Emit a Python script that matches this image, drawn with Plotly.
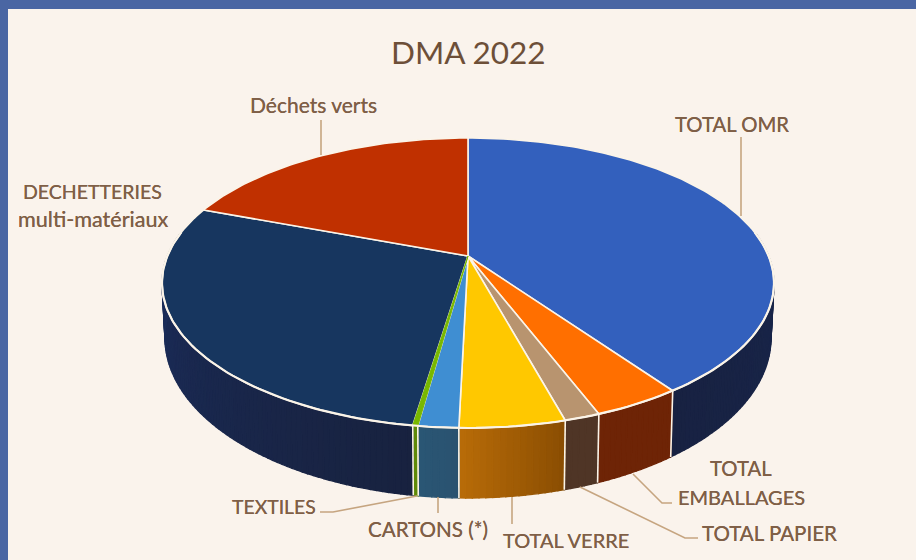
import math
import plotly.graph_objects as go

# ---- data (share of total, %)
categories = ["TOTAL OMR", "TOTAL EMBALLAGES", "TOTAL PAPIER", "TOTAL VERRE",
              "CARTONS (*)", "TEXTILES", "DECHETTERIES multi-matériaux", "Déchets verts"]
values = [40.2, 3.94, 1.58, 4.67, 1.78, 0.22, 28.3, 19.3]

# ---- styles
top_colors = ["#3360bd", "#ff6f00", "#b8946f", "#ffc800", "#3f8ed2", "#78b800", "#17365f", "#c03000"]
side_from = ["#18264c", "#6e2406", "#4f3526", "#8a4d02", "#2a5270", "#5f8a08", "#18223f", "#7a1e00"]
side_to = ["#182242", "#6e2406", "#4f3526", "#b86c08", "#2a5674", "#5f8a08", "#1b2e5e", "#7a1e00"]
EDGE = "#fbf4e8"
BG = "#faf3ec"
BORDER = "#4a66a3"
TEXT = "#7f5f47"
LEADER = "#c6a580"
FONT = "Lato"

# ---- projection of the disc into picture space
TOP = dict(cx=468.0, cy=283.0, rx=306.0, ry=145.0)
BOT = dict(cx=468.0, cy=338.0, rx=303.0, ry=160.0)
Y0 = -27.0 / 145.0
K = math.sqrt(1 - Y0 * Y0)


def project(theta, e):
    u, v = math.sin(theta), -math.cos(theta)
    d = 1 + Y0 * v
    return e["cx"] + e["rx"] * u * K / d, e["cy"] + e["ry"] * (v + Y0) / d


def hex2rgb(c):
    return [int(c[i:i + 2], 16) for i in (1, 3, 5)]


def mix(a, b, t):
    ra, rb = hex2rgb(a), hex2rgb(b)
    return "rgb(%d,%d,%d)" % tuple(round(x + (y - x) * t) for x, y in zip(ra, rb))


total = sum(values)
bounds = [0.0]
for val in values:
    bounds.append(bounds[-1] + val / total * 2 * math.pi)

fig = go.Figure()


def poly(xs, ys, fill, line=None, width=1.0):
    fig.add_trace(go.Scatter(x=xs, y=ys, mode="lines", fill="toself", fillcolor=fill,
                             line=dict(color=line or fill, width=width),
                             hoverinfo="skip", showlegend=False))


def stroke(xs, ys, color, width):
    fig.add_trace(go.Scatter(x=xs, y=ys, mode="lines", line=dict(color=color, width=width),
                             hoverinfo="skip", showlegend=False))


# side wall
VIS_A, VIS_B = math.radians(80), math.radians(280)
STEP = math.radians(1.0)
for i in range(len(values)):
    a0, a1 = max(bounds[i], VIS_A), min(bounds[i + 1], VIS_B)
    if a1 <= a0:
        continue
    n = max(1, int((a1 - a0) / STEP))
    for k in range(n):
        t0 = a0 + (a1 - a0) * k / n
        t1 = a0 + (a1 - a0) * (k + 1) / n
        p = [project(t0, TOP), project(t1, TOP), project(t1, BOT), project(t0, BOT)]
        poly([q[0] for q in p] + [p[0][0]], [q[1] for q in p] + [p[0][1]],
             mix(side_from[i], side_to[i], (k + 0.5) / n), width=1.3)

# separators on the wall
for b in bounds[1:-1]:
    if VIS_A < b < VIS_B:
        a, c = project(b, TOP), project(b, BOT)
        stroke([a[0], c[0]], [a[1], c[1]], EDGE, 1.6)

# top faces
apex = (TOP["cx"], TOP["cy"] + Y0 * TOP["ry"])
order = [0, 1, 2, 3, 4, 6, 7, 5]
for i in order:
    n = max(2, int((bounds[i + 1] - bounds[i]) / math.radians(1)))
    pts = [project(bounds[i] + (bounds[i + 1] - bounds[i]) * k / n, TOP) for k in range(n + 1)]
    xs = [apex[0]] + [q[0] for q in pts] + [apex[0]]
    ys = [apex[1]] + [q[1] for q in pts] + [apex[1]]
    if i == 5:
        poly(xs, ys, top_colors[i], line=top_colors[i], width=1.0)
    else:
        poly(xs, ys, top_colors[i], line=EDGE, width=1.6)

# front rim
rim = [project(VIS_A + (VIS_B - VIS_A) * k / 160, TOP) for k in range(161)]
stroke([q[0] for q in rim], [q[1] for q in rim], EDGE, 2.2)

# leader lines
leaders = [
    [(741, 137), (741, 216)],
    [(321, 120), (321, 155)],
    [(320, 512), (333, 512), (417, 496)],
    [(438, 497), (438, 513)],
    [(512, 497), (512, 524)],
    [(580, 487), (685, 538), (698, 538)],
    [(633, 474), (662, 503), (672, 503)],
]
for seg in leaders:
    stroke([q[0] for q in seg], [q[1] for q in seg], LEADER, 1.6)

# labels
labels = [
    ("TOTAL OMR", 732, 124, 20.3),
    ("Déchets verts", 313, 104, 21.0),
    ("DECHETTERIES", 92, 191, 19.5),
    ("multi-matériaux", 93, 219, 21.6),
    ("TOTAL", 741, 468, 20.3),
    ("EMBALLAGES", 741, 497, 20.0),
    ("TOTAL PAPIER", 769, 533, 20.5),
    ("TOTAL VERRE", 566, 540, 20.0),
    ("CARTONS (*)", 428, 529, 20.6),
    ("TEXTILES", 274, 506, 19.4),
]
annotations = [dict(x=x, y=y, text=t, showarrow=False, xanchor="center", yanchor="middle",
                    font=dict(family=FONT, size=s, color=TEXT, shadow="0 0 0.6px " + TEXT))
               for t, x, y, s in labels]
annotations.append(dict(x=468, y=52, text="DMA 2022", showarrow=False, xanchor="center", yanchor="middle",
                        font=dict(family=FONT, size=31.5, color="#6d4f38")))

fig.update_layout(
    width=916, height=560, autosize=False,
    margin=dict(l=0, r=0, t=0, b=0),
    paper_bgcolor=BORDER, plot_bgcolor=BORDER,
    xaxis=dict(range=[0, 916], visible=False, fixedrange=True),
    yaxis=dict(range=[560, 0], visible=False, fixedrange=True),
    shapes=[dict(type="rect", xref="x", yref="y", x0=8, y0=9, x1=916, y1=560,
                 fillcolor=BG, line=dict(width=0), layer="below")],
    annotations=annotations,
    showlegend=False,
)
fig.write_html("out.html", config=dict(displayModeBar=False),
               post_script="document.body.style.margin='0';document.body.style.overflow='hidden';")
